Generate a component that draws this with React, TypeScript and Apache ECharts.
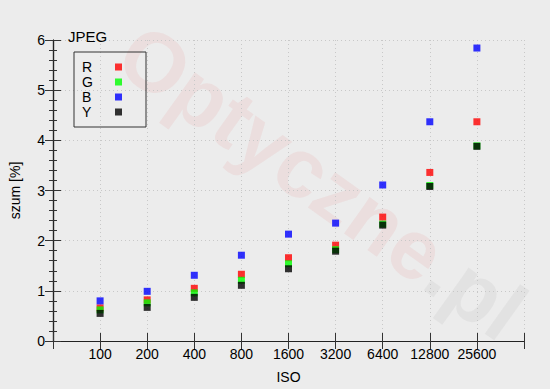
import React, { useEffect, useRef } from "react";
import * as echarts from "echarts";

const isoLabels = ["100", "200", "400", "800", "1600", "3200", "6400", "12800", "25600"];
const seriesNames = ["R", "G", "B", "Y"];
const seriesColors = ["#ff0000", "#00ff00", "#0000ff", "#000000"];
const rValues = [0.66, 0.82, 1.05, 1.33, 1.66, 1.91, 2.47, 3.36, 4.37];
const gValues = [0.62, 0.76, 0.96, 1.21, 1.54, 1.82, 2.33, 3.1, 3.89];
const bValues = [0.8, 0.99, 1.31, 1.71, 2.13, 2.35, 3.11, 4.37, 5.84];
const yValues = [0.55, 0.67, 0.87, 1.11, 1.44, 1.79, 2.31, 3.08, 3.88];
const allValues = [rValues, gValues, bValues, yValues];

const FONT = "'Liberation Sans', Arial, sans-serif";

export default function App() {
  const ref = useRef<HTMLDivElement>(null);
  useEffect(() => {
    if (!ref.current) return;
    const chart = echarts.init(ref.current, null, { renderer: "svg" });
    const axisLine = { show: true, lineStyle: { color: "#222", width: 1.2 } };
    const gridLine = { show: true, lineStyle: { color: "#c8c8c8", type: [1, 3] as any, width: 1 } };
    chart.setOption({
      animation: false,
      backgroundColor: "#ececec",
      textStyle: { fontFamily: FONT },
      title: {
        text: "JPEG",
        left: 63,
        top: 24,
        textStyle: { fontSize: 15, fontWeight: "normal", color: "#000", fontFamily: FONT },
      },
      graphic: [
        {
          type: "text",
          x: 322,
          y: 182,
          rotation: -0.62,
          z: 0,
          silent: true,
          style: {
            text: "{a|Optyczne}{b|.pl}",
            align: "center",
            verticalAlign: "middle",
            rich: {
              a: { fontSize: 84, fontWeight: "bold", fill: "rgba(230,120,120,0.12)", fontFamily: FONT },
              b: { fontSize: 84, fontWeight: "bold", fill: "rgba(170,170,170,0.14)", fontFamily: FONT },
            },
          },
        },
      ],
      legend: {
        orient: "vertical",
        left: 74,
        top: 52,
        align: "right",
        icon: "rect",
        itemWidth: 7,
        itemHeight: 7,
        itemGap: 1,
        padding: [8, 24, 8, 8],
        borderColor: "#333",
        borderWidth: 1,
        data: seriesNames,
        formatter: (name: string) => "{n|" + name + "}",
        textStyle: {
          fontSize: 13,
          color: "#000",
          lineHeight: 13,
          fontFamily: FONT,
          rich: {
            n: { width: 28, align: "left", fontSize: 14, lineHeight: 13, color: "#000", fontFamily: FONT },
          },
        },
      },
      grid: { left: 51, right: 26, top: 40, bottom: 45 },
      xAxis: [
        {
          type: "value",
          min: 0,
          max: 10,
          interval: 1,
          name: "ISO",
          nameLocation: "middle",
          nameGap: 29,
          nameTextStyle: { fontSize: 14, color: "#000", fontFamily: FONT },
          axisLine,
          axisTick: { show: true, inside: true, length: 8, lineStyle: { color: "#333" } },
          axisLabel: {
            fontSize: 14,
            color: "#000",
            margin: 6,
            formatter: (v: number) => (v >= 1 && v <= isoLabels.length ? isoLabels[v - 1] : ""),
          },
          splitLine: gridLine,
        },
        {
          type: "value",
          position: "top",
          min: 0,
          max: 10,
          interval: 1,
          axisLine,
          axisTick: { show: true, inside: true, length: 8, lineStyle: { color: "#333" } },
          axisLabel: { show: false },
          splitLine: { show: false },
        },
      ],
      yAxis: [
        {
          type: "value",
          min: 0,
          max: 6,
          interval: 1,
          name: "szum [%]",
          nameLocation: "middle",
          nameGap: 31,
          nameTextStyle: { fontSize: 14, color: "#000", fontFamily: FONT },
          axisLine,
          axisTick: { show: true, inside: true, length: 8, lineStyle: { color: "#333" } },
          minorTick: { show: true, splitNumber: 5, length: 4, lineStyle: { color: "#333" } },
          axisLabel: { fontSize: 14, color: "#000", margin: 8 },
          splitLine: gridLine,
        },
        {
          type: "value",
          position: "right",
          min: 0,
          max: 6,
          interval: 1,
          axisLine,
          axisTick: { show: true, inside: true, length: 8, lineStyle: { color: "#333" } },
          minorTick: { show: true, splitNumber: 5, length: 4, lineStyle: { color: "#333" } },
          axisLabel: { show: false },
          splitLine: { show: false },
        },
      ],
      series: seriesNames.map((name, si) => ({
        name,
        type: "scatter",
        symbol: "rect",
        symbolSize: 7,
        z: 3,
        itemStyle: { color: seriesColors[si] },
        data: allValues[si].map((v, i) => [i + 1, v]),
      })),
    });
    return () => chart.dispose();
  }, []);
  return (
    <div
      ref={ref}
      style={{ position: "fixed", left: 0, top: 0, width: 550, height: 389 }}
    />
  );
}
